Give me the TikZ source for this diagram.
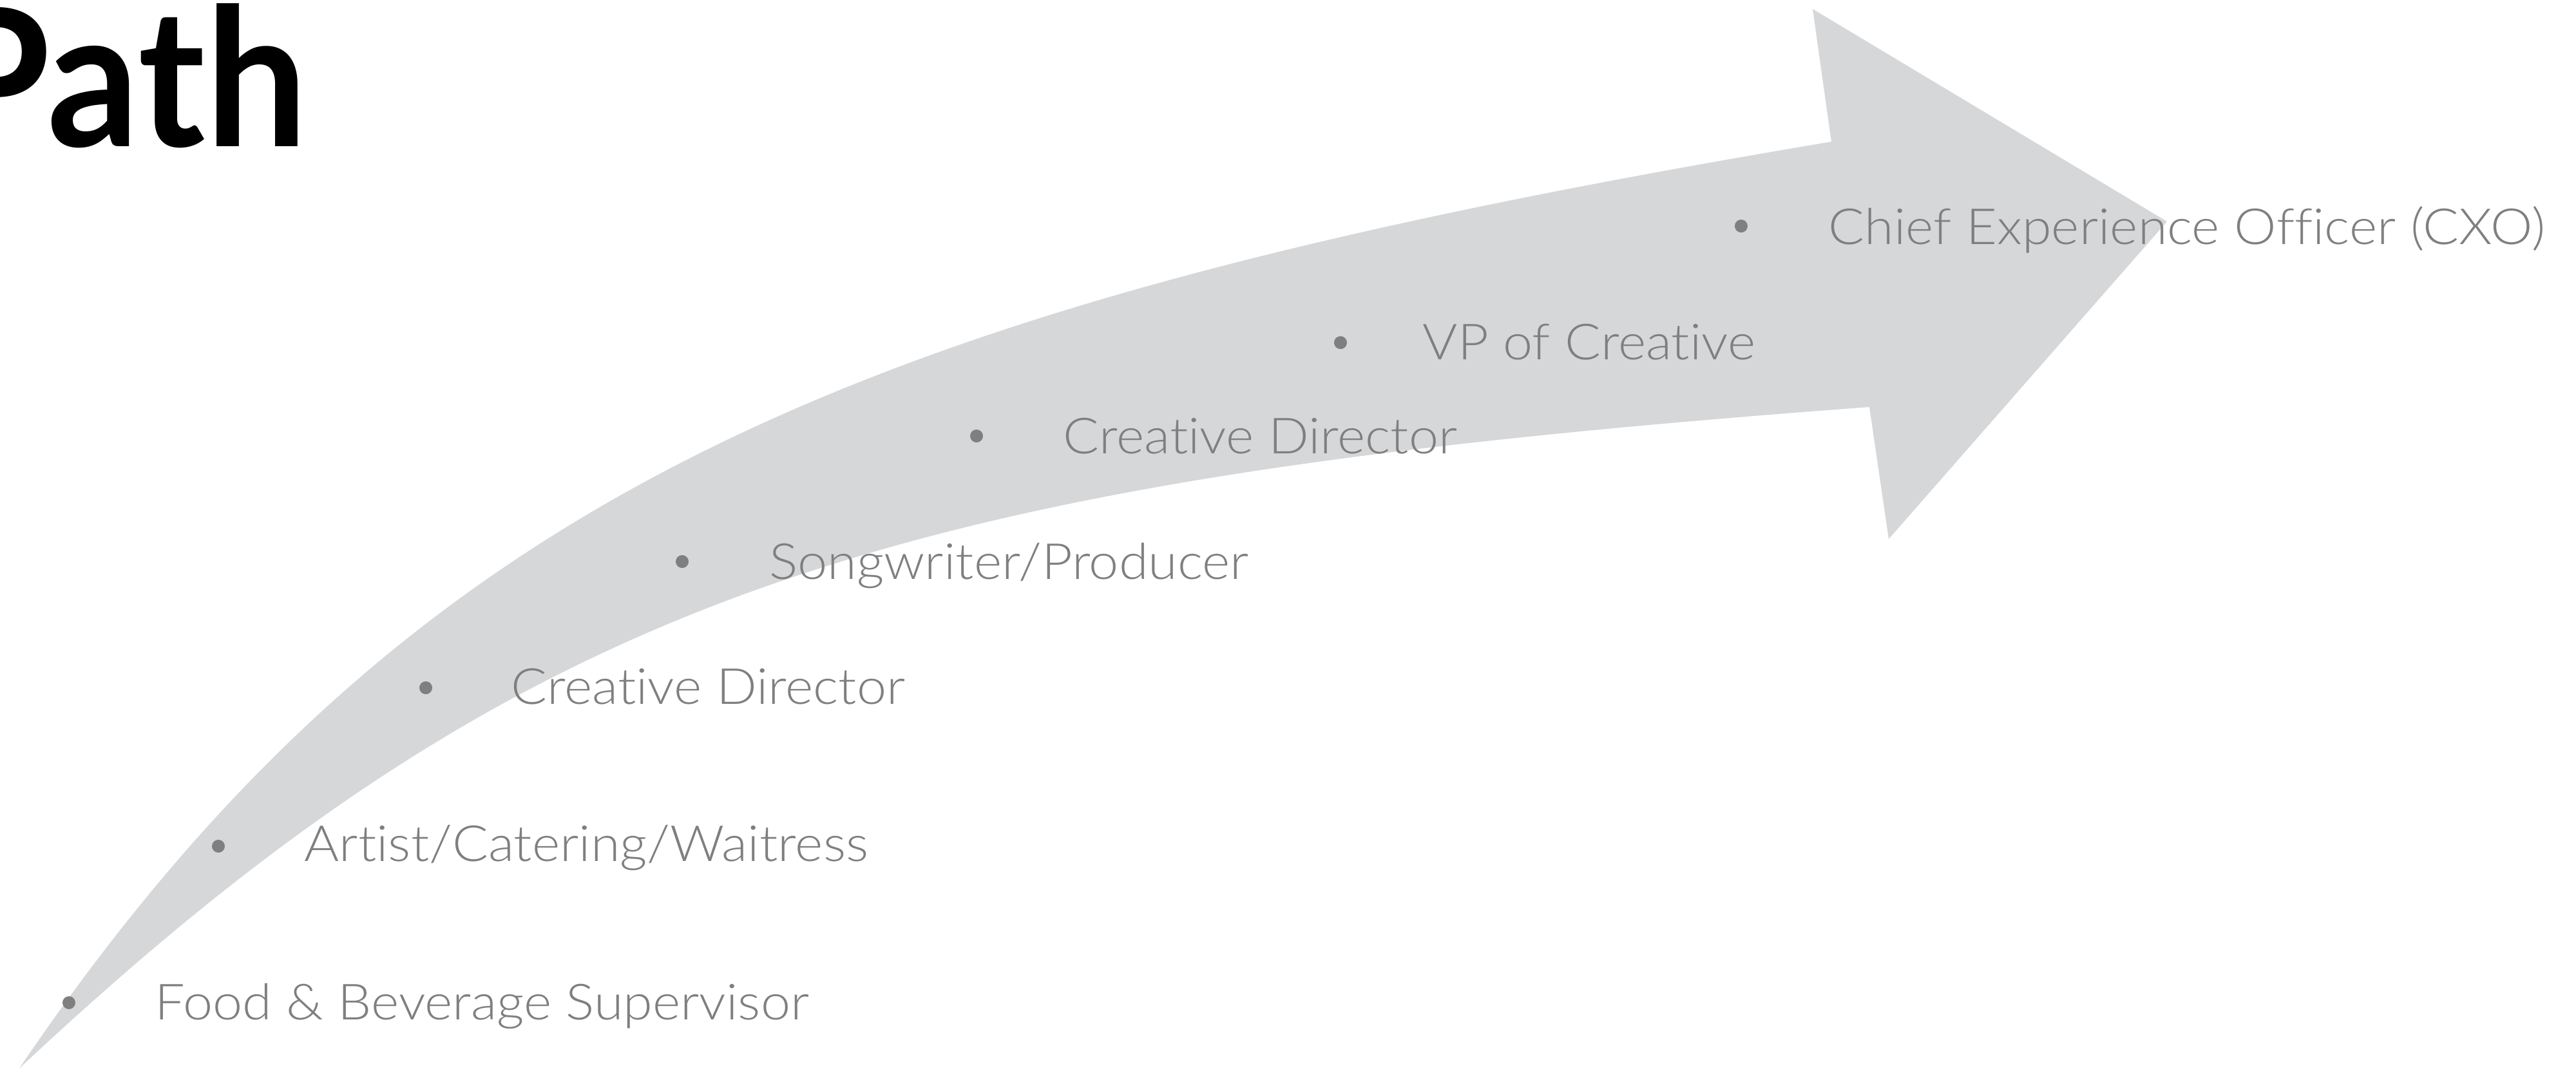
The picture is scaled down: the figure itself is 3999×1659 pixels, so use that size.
\documentclass[tikz,border=0pt]{standalone}
\usepackage{fontspec}
\setmainfont{Lato}
\newfontfamily\itemfont{Lato Light}[FakeStretch=1.07, Ligatures=NoCommon]
\newfontfamily\titlefont{Lato}[FakeStretch=0.94]
\definecolor{arrowgray}{HTML}{D6D7D9}
\definecolor{textgray}{HTML}{7F7F7F}
\begin{document}
\begin{tikzpicture}[x=0.01cm,y=-0.01cm,
  item/.style={anchor=base west, inner sep=0pt, text=textgray, font=\itemfont\fontsize{22}{26}\selectfont},
  dot/.style={circle, fill=textgray, inner sep=0pt, minimum size=0.2cm}]
\useasboundingbox (0,0) rectangle (3999,1659);
\clip (0,0) rectangle (3999,1659);
\fill[arrowgray] (30,1659) .. controls (648,746) and (1365,468) .. (2843,220)
  -- (2814,14) -- (3364,344) -- (2932,837) -- (2902,632)
  .. controls (1406,743) and (834,905) .. (30,1659) -- cycle;
\node[anchor=base east, inner sep=0pt, font=\titlefont\fontsize{85}{95}\selectfont\bfseries] (title) at (478,227) {Path};
\node[dot] (b1) at (107,1557) {};
\node[item] (t1) at (240,1583) {Food \& Beverage Supervisor};
\node[dot] (b2) at (339,1314) {};
\node[item] (t2) at (472,1337) {Artist/Catering/Waitress};
\node[dot] (b3) at (661,1068) {};
\node[item] (t3) at (793,1093) {Creative Director};
\node[dot] (b4) at (1059,872) {};
\node[item] (t4) at (1194,899) {Songwriter/Producer};
\node[dot] (b5) at (1516,677) {};
\node[item] (t5) at (1650,704) {Creative Director};
\node[dot] (b6) at (2081,532) {};
\node[item] (t6) at (2208,558) {VP of Creative};
\node[dot] (b7) at (2703,351) {};
\node[item] (t7) at (2838,379) {Chief Experience Officer (CXO)};
\end{tikzpicture}
\end{document}
